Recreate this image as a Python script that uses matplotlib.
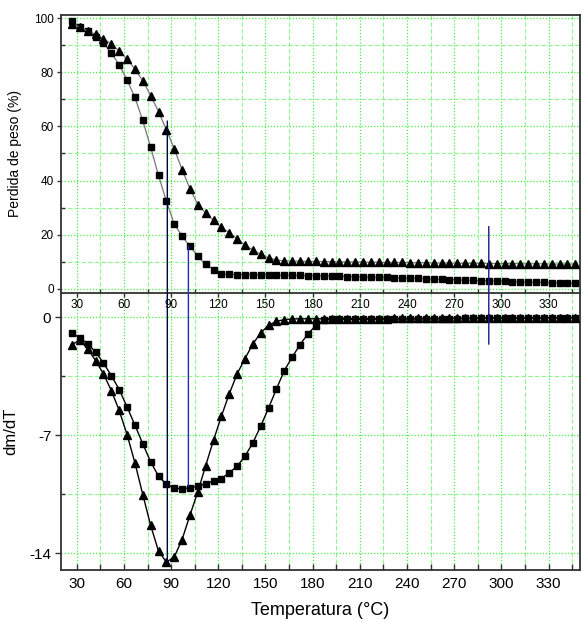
import matplotlib
matplotlib.use("Agg")
import matplotlib.pyplot as plt
from matplotlib.patches import ConnectionPatch
from matplotlib.ticker import MultipleLocator

plt.rcParams['font.family'] = ['Liberation Sans', 'DejaVu Sans']

# ---------------- data ----------------
temp = [27, 32, 37, 42, 47, 52, 57, 62, 67, 72, 77, 82, 87, 92, 97, 102, 107, 112,
        117, 122, 127, 132, 137, 142, 147, 152, 157, 162, 167, 172, 177, 182, 187,
        192, 197, 202, 207, 212, 217, 222, 227, 232, 237, 242, 247, 252, 257, 262,
        267, 272, 277, 282, 287, 292, 297, 302, 307, 312, 317, 322, 327, 332, 337,
        342, 347]

tg_square = [99.0, 96.7, 95.1, 93.2, 90.8, 87.1, 82.8, 77.2, 70.7, 62.2, 52.3, 41.9,
             32.3, 24.0, 19.4, 15.7, 12.0, 9.0, 7.1, 5.6, 5.3, 5.2, 5.2, 5.2, 5.1,
             5.1, 5.0, 5.0, 4.9,
             4.9, 4.8, 4.8, 4.7, 4.7, 4.6, 4.5, 4.5, 4.4, 4.3, 4.3, 4.2, 4.1, 4.0,
             3.9, 3.8, 3.7, 3.6, 3.5, 3.4, 3.3, 3.2, 3.1, 3.0, 2.9, 2.8, 2.7, 2.6,
             2.5, 2.4, 2.4, 2.3, 2.2, 2.1, 2.1, 2.0]

tg_triangle = [97.9, 96.7, 95.3, 94.1, 92.4, 90.4, 87.9, 84.9, 81.2, 76.9, 71.4, 65.5,
               58.8, 51.7, 44.0, 37.0, 31.1, 28.0, 25.3, 22.7, 20.7, 18.5, 16.1, 14.3,
               12.7, 11.4, 10.6, 10.3, 10.2,
               10.2, 10.1, 10.1, 10.0, 10.0, 9.9, 9.9, 9.9, 9.8, 9.8, 9.8, 9.7, 9.7,
               9.7, 9.6, 9.6, 9.6, 9.5, 9.5, 9.5, 9.4, 9.4, 9.4, 9.4, 9.3, 9.3, 9.3,
               9.3, 9.2, 9.2, 9.2, 9.2, 9.1, 9.1, 9.1, 9.1]

dtg_square = [-0.93, -1.22, -1.58, -2.07, -2.71, -3.46, -4.29, -5.32, -6.40, -7.51,
              -8.58, -9.43, -9.92, -10.14, -10.18, -10.12, -10.02, -9.88, -9.72,
              -9.57, -9.23, -8.84, -8.24, -7.45, -6.46, -5.38, -4.25, -3.16, -2.37,
              -1.62, -0.99, -0.49, -0.18,
              -0.13, -0.13, -0.12, -0.12, -0.12, -0.11, -0.11, -0.11, -0.10, -0.10,
              -0.10, -0.09, -0.09, -0.09, -0.08, -0.08, -0.08, -0.07, -0.07, -0.07,
              -0.06, -0.06, -0.06, -0.05, -0.05, -0.05, -0.04, -0.04, -0.03, -0.03,
              -0.02, -0.02]

dtg_triangle = [-1.62, -1.35, -1.88, -2.57, -3.36, -4.35, -5.53, -6.96, -8.64, -10.52,
                -12.35, -13.88, -14.53, -14.23, -13.19, -11.74, -10.36, -8.80, -7.29,
                -5.87, -4.54, -3.36, -2.45, -1.58, -0.93, -0.47, -0.24, -0.14, -0.10,
                -0.09, -0.09, -0.09, -0.09, -0.09, -0.08, -0.08, -0.08, -0.08, -0.08,
                -0.08, -0.08, -0.07, -0.07, -0.07, -0.07, -0.07, -0.07, -0.06, -0.06,
                -0.06, -0.06, -0.06, -0.05, -0.05, -0.05, -0.05, -0.05, -0.04, -0.04,
                -0.04, -0.04, -0.03, -0.03, -0.03, -0.03]

x_ticks = [30, 60, 90, 120, 150, 180, 210, 240, 270, 300, 330]
tg_ticks = [0, 20, 40, 60, 80, 100]
dtg_ticks = [0, -7, -14]

# marker lines: (temperature, TG value, DTG value, colour)
markers_v = [(87.6, 62.0, -14.6, "#000040"),
             (101.0, 15.7, -10.0, "#2a2ab8"),
             (292.0, 23.0, -1.6, "#1a1a8a")]

# ---------------- figure ----------------
fig = plt.figure(figsize=(5.82, 6.22), dpi=100)
L, R = 61 / 582, 580 / 582
ax_b = fig.add_axes([L, 1 - 570 / 622, R - L, (570 - 292) / 622])
ax_t = fig.add_axes([L, 1 - 292.5 / 622, R - L, (292.5 - 15) / 622])
ax_t.set_zorder(3)

grid_major = dict(color="#44ee44", linestyle=(0, (1, 1.5)), linewidth=0.9)
grid_minor = dict(color="#8cf58c", linestyle=(0, (4, 2)), linewidth=0.8)
spine_col = "#333333"

for ax in (ax_t, ax_b):
    ax.set_xlim(20, 350)
    ax.set_xticks(x_ticks)
    ax.xaxis.set_minor_locator(MultipleLocator(15))
    ax.grid(True, which="major", **grid_major)
    ax.grid(True, which="minor", **grid_minor)
    ax.set_axisbelow(True)
    for s in ax.spines.values():
        s.set_color(spine_col)
        s.set_linewidth(1.3)

# top panel (TG)
ax_t.plot(temp, tg_square, color="#777777", lw=0.9, marker="s", ms=4.2,
          mfc="black", mec="black", zorder=3)
ax_t.plot(temp, tg_triangle, color="#777777", lw=0.9, marker="^", ms=5.4,
          mfc="black", mec="black", zorder=3)
ax_t.set_ylim(-1.4, 101.2)
ax_t.set_yticks(tg_ticks)
ax_t.yaxis.set_minor_locator(MultipleLocator(10))
ax_t.tick_params(axis="x", which="major", direction="out", length=3, width=1,
                 labelsize=8.5, pad=2, color=spine_col)
ax_t.tick_params(axis="x", which="minor", direction="in", length=3, width=1,
                 color=spine_col)
ax_t.tick_params(axis="y", which="major", direction="out", length=3, width=1,
                 labelsize=8.5, pad=2, color=spine_col)
ax_t.tick_params(axis="y", which="minor", direction="in", length=3, width=1,
                 color=spine_col)
ax_t.set_ylabel("Perdida de peso (%)", fontsize=10)
ax_t.yaxis.set_label_coords(-0.075, 0.5)

# bottom panel (DTG)
ax_b.plot(temp, dtg_square, color="black", lw=1.0, marker="s", ms=4.6,
          mfc="black", mec="black", zorder=3)
ax_b.plot(temp, dtg_triangle, color="black", lw=1.0, marker="^", ms=5.8,
          mfc="black", mec="black", zorder=3)
ax_b.set_ylim(-15.0, 1.5)
ax_b.set_yticks(dtg_ticks)
ax_b.set_yticklabels([str(v) for v in dtg_ticks])
ax_b.yaxis.set_minor_locator(MultipleLocator(3.5))
ax_b.tick_params(axis="x", which="both", direction="in", length=4, width=1,
                 labelsize=11, pad=5, color=spine_col)
ax_b.tick_params(axis="y", which="major", direction="out", length=4, width=1,
                 labelsize=11, pad=3, color=spine_col)
ax_b.tick_params(axis="y", which="minor", direction="in", length=3, width=1,
                 color=spine_col)
ax_b.set_ylabel("dm/dT", fontsize=12)
ax_b.yaxis.set_label_coords(-0.083, 0.5)
ax_b.set_xlabel("Temperatura (°C)", fontsize=13, labelpad=8)

for t, ytop, ybot, col in markers_v:
    con = ConnectionPatch(xyA=(t, ytop), coordsA=ax_t.transData,
                          xyB=(t, ybot), coordsB=ax_b.transData,
                          color=col, lw=1.0, zorder=10)
    fig.add_artist(con)

fig.savefig("out.png", dpi=100)
